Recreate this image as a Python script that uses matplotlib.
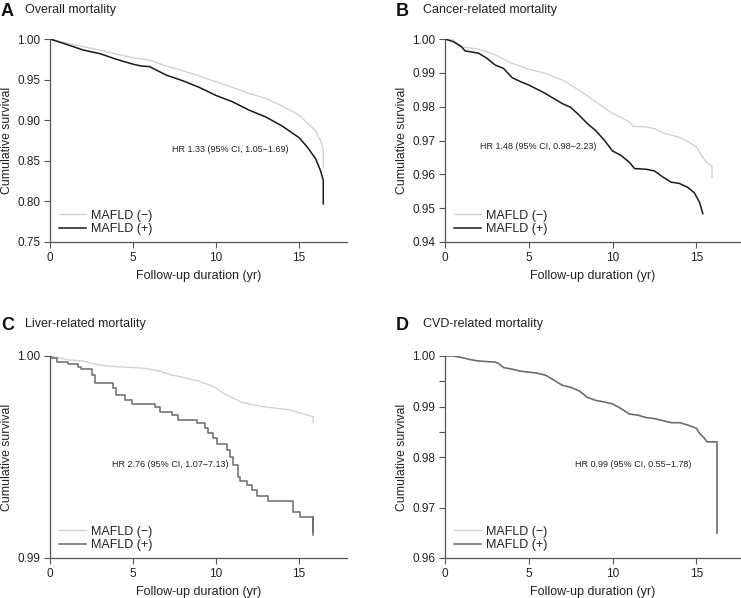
import matplotlib
matplotlib.use('Agg')
import matplotlib.pyplot as plt

plt.rcParams['font.family'] = ['Liberation Sans', 'DejaVu Sans']

# Panel A - overall mortality
a_neg_t = [0, 1, 2, 3, 4, 5, 6, 7, 8, 9, 10, 11, 12, 13, 14, 15, 15.5, 16, 16.3, 16.47, 16.47]
a_neg_s = [1.0, 0.995, 0.9905, 0.9864, 0.9815, 0.977, 0.974, 0.9667, 0.961, 0.9544, 0.9473,
           0.9404, 0.933, 0.9268, 0.9174, 0.9063, 0.8968, 0.887, 0.875, 0.865, 0.8425]
a_pos_t = [0, 1, 2, 3, 4, 5, 5.5, 6, 7, 8, 9, 10, 11, 12, 13, 14, 15, 15.5, 16, 16.3, 16.47, 16.47]
a_pos_s = [1.0, 0.9934, 0.9864, 0.982, 0.975, 0.969, 0.9667, 0.966, 0.9556, 0.9486, 0.9404,
           0.9305, 0.9227, 0.9124, 0.904, 0.8927, 0.8787, 0.8672, 0.8528, 0.838, 0.826, 0.797]

# Panel B - cancer-related mortality
b_neg_t = [0, 0.5, 0.99, 2.0, 3.0, 4.0, 5.0, 5.99, 7.0, 7.5, 8.0, 9.0, 10.0, 11.01, 11.21, 12.0,
           12.5, 13.0, 13.99, 14.5, 15.0, 15.3, 15.58, 15.93, 15.93]
b_neg_s = [1.0, 0.9997, 0.9977, 0.997, 0.9953, 0.9928, 0.9911, 0.9898, 0.9879, 0.9864, 0.9849,
           0.9814, 0.978, 0.9755, 0.9742, 0.974, 0.9735, 0.9723, 0.9709, 0.9696, 0.9681, 0.9656,
           0.9637, 0.9625, 0.9592]
b_pos_t = [0, 0.5, 0.99, 1.19, 2.0, 2.5, 3.0, 3.49, 4.0, 4.5, 5.0, 5.99, 7.0, 7.5, 8.0, 8.49, 9.0,
           9.5, 10.0, 10.5, 11.01, 11.31, 12.0, 12.5, 13.0, 13.49, 13.99, 14.5, 14.88, 15.18, 15.38]
b_pos_s = [1.0, 0.9992, 0.9977, 0.9965, 0.9958, 0.9943, 0.9923, 0.9913, 0.9886, 0.9874, 0.9864,
           0.9839, 0.9809, 0.9798, 0.9775, 0.975, 0.9729, 0.9701, 0.9669, 0.9656, 0.9635, 0.9617,
           0.9615, 0.961, 0.9592, 0.9577, 0.9573, 0.9561, 0.9545, 0.9518, 0.9484]

# Panel C - liver-related mortality
c_neg_t = [0, 1.2, 2.0, 2.71, 3.51, 4.5, 5.72, 6.6, 7.33, 8.0, 8.84, 9.64, 10.0, 10.44, 11.0,
           11.45, 12.0, 12.85, 13.6, 14.46, 15.26, 15.86, 15.86]
c_neg_s = [1.0, 0.9998, 0.99975, 0.9996, 0.9995, 0.99945, 0.99939, 0.99925, 0.99906, 0.99895,
           0.99878, 0.99856, 0.99842, 0.99815, 0.99793, 0.99774, 0.99762, 0.99749, 0.99742,
           0.99733, 0.99713, 0.997, 0.9967]
c_pos_t = [0, 0.05, 0.40, 1.10, 1.70, 1.87, 2.51, 2.71, 3.81, 3.98, 4.52, 4.96, 6.33, 6.63, 7.33,
           7.73, 8.84, 9.34, 9.54, 9.84, 10.04, 10.64, 10.84, 11.04, 11.34, 11.45, 11.85, 12.15,
           12.45, 13.15, 14.66, 15.06, 15.86]
c_pos_s = [1.0, 0.99989, 0.99972, 0.99959, 0.99944, 0.99934, 0.99906, 0.99865, 0.9984, 0.99807,
           0.99782, 0.99762, 0.99746, 0.99724, 0.99708, 0.99683, 0.99667, 0.99642, 0.99617,
           0.99593, 0.99563, 0.99535, 0.99501, 0.9946, 0.99402, 0.99383, 0.99361, 0.99337,
           0.99308, 0.99284, 0.99229, 0.99204, 0.9913]

# Panel D - CVD-related mortality (the two curves overlap)
d_pos_t = [0, 0.5, 1, 1.5, 2, 3, 3.2, 3.5, 4, 4.5, 5, 5.5, 6, 6.5, 7, 7.5, 8, 8.5, 9, 9.5, 10,
           10.5, 11, 11.5, 12, 12.5, 13, 13.5, 14, 14.5, 15, 15.18, 15.48, 15.62, 16.23, 16.23]
d_pos_s = [1.0, 1.0, 0.9997, 0.9993, 0.999, 0.9988, 0.9985, 0.9977, 0.9974, 0.997, 0.9968, 0.9966,
           0.9962, 0.9952, 0.9942, 0.9938, 0.9931, 0.9918, 0.9912, 0.9909, 0.9905, 0.9896, 0.9885,
           0.9883, 0.9878, 0.9876, 0.9872, 0.9868, 0.9868, 0.9863, 0.9857, 0.9847, 0.9837, 0.983,
           0.983, 0.9649]
d_neg_t = d_pos_t
d_neg_s = d_pos_s

panel_letters = ['A', 'B', 'C', 'D']
panel_titles = ['Overall mortality', 'Cancer-related mortality',
                'Liver-related mortality', 'CVD-related mortality']
hr_texts = ['HR 1.33 (95% CI, 1.05\u22121.69)', 'HR 1.48 (95% CI, 0.98\u22122.23)',
            'HR 2.76 (95% CI, 1.07\u22127.13)', 'HR 0.99 (95% CI, 0.55\u22121.78)']
hr_pos = [(7.33, 0.8645), (2.08, 0.9682), (3.72, 0.99464), (7.74, 0.97842)]
y_ranges = [(0.75, 1.0), (0.94, 1.0), (0.99, 1.0), (0.96, 1.0)]
y_ticks = [[0.75, 0.80, 0.85, 0.90, 0.95, 1.00],
           [0.94, 0.95, 0.96, 0.97, 0.98, 0.99, 1.00],
           [0.99, 1.00],
           [0.96, 0.97, 0.98, 0.99, 1.00]]
x_max = [17.9, 17.6, 17.9, 17.6]

curves = [(a_neg_t, a_neg_s, a_pos_t, a_pos_s),
          (b_neg_t, b_neg_s, b_pos_t, b_pos_s),
          (c_neg_t, c_neg_s, c_pos_t, c_pos_s),
          (d_neg_t, d_neg_s, d_pos_t, d_pos_s)]
pos_colors = ['#1a1a1a', '#1a1a1a', '#6a6a6a', '#6a6a6a']
neg_color = '#d2d2d2'

W, H = 741, 598
fig = plt.figure(figsize=(W / 100, H / 100), dpi=100)

# axes boxes in pixels: left, top, right, bottom
boxes = [(50, 39, 347, 242), (445, 39, 740, 242), (50, 356, 347, 558), (445, 356, 740, 558)]
letter_xy = [(1, 16.5), (396, 16.5), (1, 330), (396, 330)]
title_xy = [(25, 12.5), (423, 12.5), (25, 326.5), (423, 326.5)]

for i in range(4):
    l, t, r, b = boxes[i]
    ax = fig.add_axes([l / W, 1 - b / H, (r - l) / W, (b - t) / H])
    neg_t, neg_s, pos_t, pos_s = curves[i]
    ax.plot(neg_t, neg_s, color=neg_color, lw=1.0, label='MAFLD (\u2212)')
    if i == 2:
        ax.step(pos_t, pos_s, where='post', color=pos_colors[i], lw=1.1, label='MAFLD (+)')
        ax.plot([pos_t[-1], pos_t[-1]], [pos_s[-2], pos_s[-1] - 0.00015], color=pos_colors[i], lw=1.1)
    else:
        ax.plot(pos_t, pos_s, color=pos_colors[i], lw=1.1, label='MAFLD (+)')

    ax.set_xlim(0, x_max[i])
    ax.set_ylim(*y_ranges[i])
    ax.set_xticks([0, 5, 10, 15])
    ax.set_yticks(y_ticks[i])
    ax.set_yticklabels(['{:.2f}'.format(v) for v in y_ticks[i]])
    if i == 3:
        ax.set_yticks([0.995, 0.985], minor=True)
    ax.tick_params(axis='both', which='both', direction='out', length=4, width=0.8,
                   colors='#555555', labelcolor='#222222', labelsize=8.5, pad=3)
    for side in ['top', 'right']:
        ax.spines[side].set_visible(False)
    for side in ['left', 'bottom']:
        ax.spines[side].set_color('#555555')
        ax.spines[side].set_linewidth(0.9)

    ax.set_xlabel('Follow-up duration (yr)', fontsize=9, color='#222222')
    ax.set_ylabel('Cumulative survival', fontsize=8.8, color='#222222')
    ax.xaxis.set_label_coords(0.5, -0.14)
    ax.yaxis.set_label_coords(-0.125, 0.5)

    ax.text(hr_pos[i][0], hr_pos[i][1], hr_texts[i], fontsize=6.5, color='#222222',
            ha='left', va='center')

    leg = ax.legend(loc='upper left', bbox_to_anchor=(0.03, 0.16), frameon=False, fontsize=9,
                    borderpad=0, borderaxespad=0, handlelength=2.2, handletextpad=0.35,
                    labelspacing=0.12)
    for txt in leg.get_texts():
        txt.set_color('#222222')

    fig.text(letter_xy[i][0] / W, 1 - letter_xy[i][1] / H, panel_letters[i], fontsize=13,
             fontweight='bold', ha='left', va='baseline', color='#111111')
    fig.text(title_xy[i][0] / W, 1 - title_xy[i][1] / H, panel_titles[i], fontsize=9,
             ha='left', va='baseline', color='#222222')

fig.savefig('out.png', dpi=100)
